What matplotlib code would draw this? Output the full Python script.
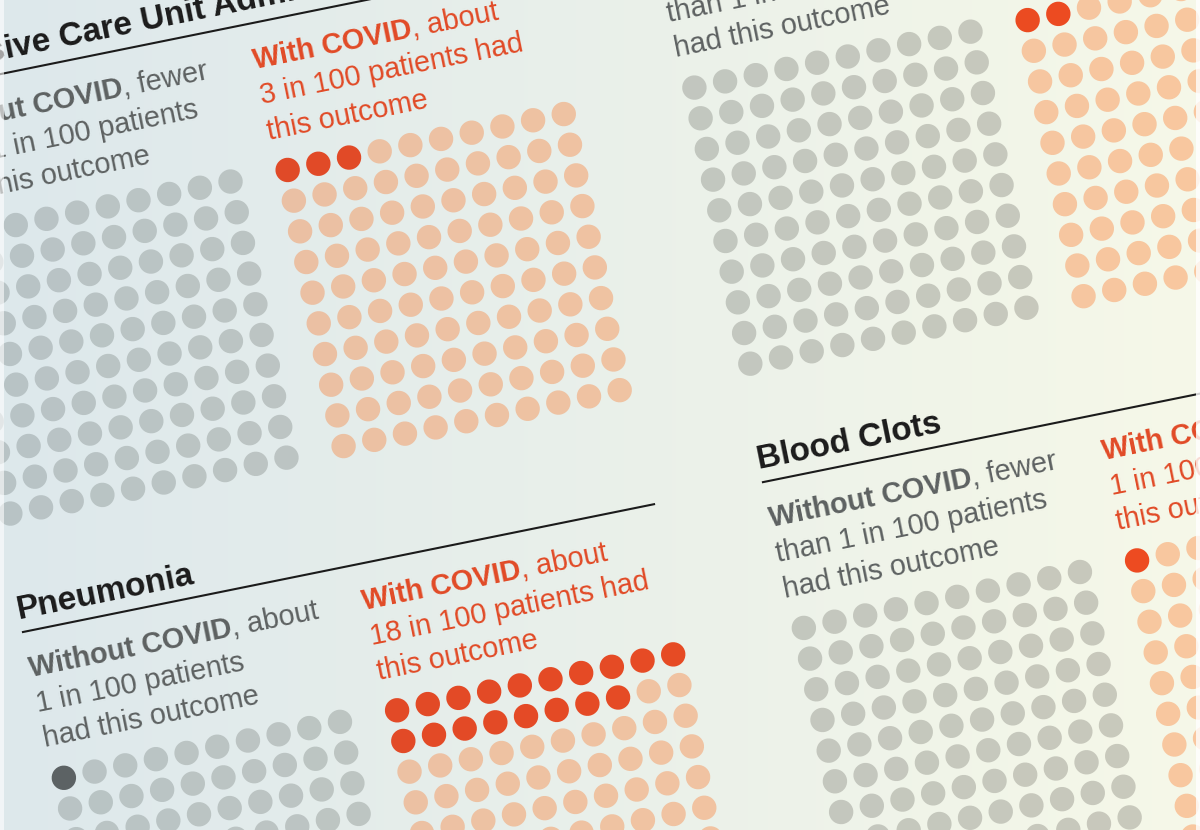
import numpy as np
import matplotlib.pyplot as plt
import matplotlib.colors as mcolors
from matplotlib.patches import Circle, Rectangle
from matplotlib.transforms import Affine2D

# Data: four panels, read left column top->bottom, then right column
titles = ["Intensive Care Unit Admission", "Pneumonia", "", "Blood Clots"]
without_counts = [0, 1, 0, 0]
with_counts = [3, 18, 2, 1]
without_lines = [
    ["fewer", "than 1 in 100 patients", "had this outcome"],
    ["about", "1 in 100 patients", "had this outcome"],
    ["fewer", "than 1 in 100 patients", "had this outcome"],
    ["fewer", "than 1 in 100 patients", "had this outcome"],
]
with_lines = [
    ["about", "3 in 100 patients had", "this outcome"],
    ["about", "18 in 100 patients had", "this outcome"],
    ["about", "2 in 100 patients had", "this outcome"],
    ["about", "1 in 100 patients had", "this outcome"],
]

# look
W, H = 1200, 830
ANG = 11.45
C, S = np.cos(np.radians(ANG)), np.sin(np.radians(ANG))
FONT = "Liberation Sans"
TITLE_FS = 24
BODY_FS = 20.8
SP = 31.3       # dot spacing
R_DOT = 12.2
BG_L, BG_R = "#dde8ec", "#f6f8e8"
GRAY_L, GRAY_R = "#b8c3c5", "#c9c9bb"
ORANGE_L, ORANGE_R = "#e6bea5", "#f8c79f"
RED_L, RED_R = "#dc4a2a", "#ee4b20"
DARK = "#5c6264"
TEXT_GRAY = "#5d6161"
TEXT_RED = "#e14a26"
INK = "#1b1b1b"

fig = plt.figure(figsize=(12, 8.3), dpi=100)
ax = fig.add_axes([0, 0, 1, 1])
ax.set_xlim(0, W)
ax.set_ylim(H, 0)
ax.axis("off")
renderer = fig.canvas.get_renderer()


def mix(c0, c1, x):
    t = np.clip(x / W, 0, 1)
    return tuple((1 - t) * np.array(mcolors.to_rgb(c0)) + t * np.array(mcolors.to_rgb(c1)))


# background gradient
xs = np.linspace(0, W, 300)
grad = np.array([[mix(BG_L, BG_R, x) for x in xs]] * 2)
ax.imshow(grad, extent=(0, W, H, 0), aspect="auto", zorder=0)

# page coords (u, v) -> image pixels, rotated
tr = Affine2D(np.array([[C, S, 0], [-S, C, 0], [0, 0, 1]])) + ax.transData


def img_x(u, v):
    return C * u + S * v


def text_width(s, weight):
    t = ax.text(0, 0, s, fontsize=BODY_FS, fontweight=weight, family=FONT)
    w = t.get_window_extent(renderer).width
    t.remove()
    return w


def put(u, v, s, color, size, weight="normal"):
    ax.text(u, v, s, transform=tr, rotation=ANG, rotation_mode="anchor",
            ha="left", va="baseline", fontsize=size, fontweight=weight,
            color=color, family=FONT, zorder=3)


def block(u, v, head, lines, color):
    put(u, v, head, color, BODY_FS, "bold")
    put(u + text_width(head, "bold"), v, ", " + lines[0], color, BODY_FS)
    for i, line in enumerate(lines[1:]):
        put(u, v + 35.75 * (i + 1), line, color, BODY_FS)


def waffle(u, v, n, hi_l, hi_r, base_l, base_r):
    for k in range(100):
        r, c = divmod(k, 10)
        cu, cv = u + c * SP, v + r * SP
        x = img_x(cu, cv)
        if k < n:
            col = DARK if hi_l is None else mix(hi_l, hi_r, x)
        else:
            col = mix(base_l, base_r, x)
        ax.add_patch(Circle((cu, cv), R_DOT, transform=tr, facecolor=col,
                            edgecolor="none", zorder=2))


for i in range(4):
    u0 = -104 if i < 2 else 651
    rule = 72.7 if i % 2 == 0 else 624.0
    if titles[i]:
        put(u0, rule - 14, titles[i], INK, TITLE_FS, "bold")
    ax.plot([u0, u0 + 646], [rule, rule], transform=tr, color=INK, lw=1.5,
            zorder=3, solid_capstyle="butt")
    block(u0, rule + 46, "Without COVID", without_lines[i], TEXT_GRAY)
    block(u0 + 340, rule + 46, "With COVID", with_lines[i], TEXT_RED)
    waffle(u0 + 12.2, rule + 151, without_counts[i], None, None, GRAY_L, GRAY_R)
    waffle(u0 + 352.2, rule + 151, with_counts[i], RED_L, RED_R, ORANGE_L, ORANGE_R)

# light strips at both edges
ax.add_patch(Rectangle((0, 0), 4, H, facecolor="white", alpha=0.6, lw=0, zorder=5))
ax.add_patch(Rectangle((W - 4, 0), 4, H, facecolor="white", alpha=0.8, lw=0, zorder=5))

fig.savefig("out.png", dpi=100)
